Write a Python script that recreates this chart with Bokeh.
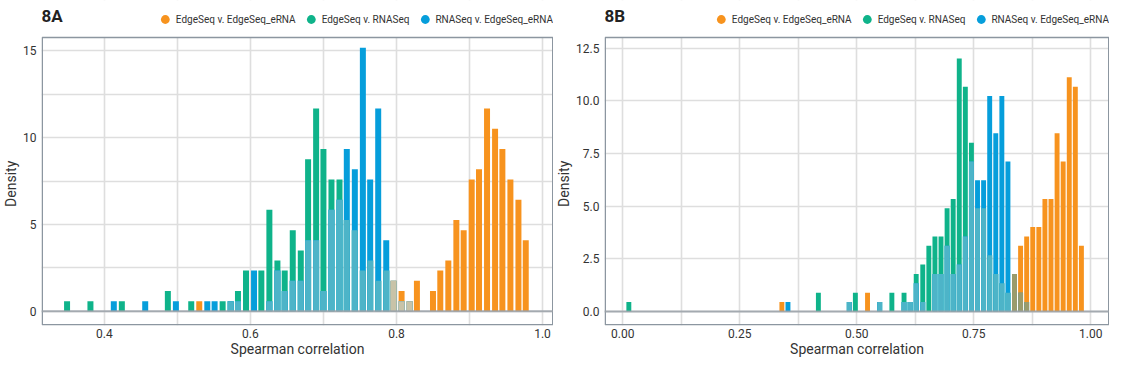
import numpy as np
from bokeh.plotting import figure
from bokeh.layouts import row
from bokeh.models import (FixedTicker, PrintfTickFormatter, Span, Legend, LegendItem,
                          ColumnDataSource, BoxAnnotation, Label)
from bokeh.embed import file_html
from bokeh.resources import INLINE

SERIES = ["EdgeSeq v. EdgeSeq_eRNA", "EdgeSeq v. RNASeq", "RNASeq v. EdgeSeq_eRNA"]
ORANGE = "#f7931e"
GREEN = "#0fb38a"
BLUE = "#069edb"
TEAL = "#4db4c8"

# ---- Panel 8A: histogram bin centres and densities ----
A_x = [0.349, 0.381, 0.413, 0.424, 0.456, 0.487, 0.498, 0.519, 0.530, 0.541,
       0.551, 0.562, 0.573, 0.583, 0.594, 0.605, 0.615, 0.626, 0.637, 0.647,
       0.658, 0.669, 0.679, 0.690, 0.700, 0.711, 0.722, 0.732, 0.743, 0.754,
       0.764, 0.775, 0.786, 0.796, 0.807, 0.818, 0.828, 0.850, 0.860, 0.871,
       0.882, 0.892, 0.903, 0.913, 0.924, 0.935, 0.945, 0.956, 0.967, 0.977]
A_orange = [0, 0, 0, 0, 0, 0, 0, 0, 0.58, 0,
            0, 0, 0, 0, 0, 0, 0, 0, 0, 0,
            0, 0, 0, 0, 0, 0, 0, 0, 0, 0,
            0, 0, 0, 1.75, 1.17, 0.58, 1.75, 1.17, 2.34, 2.92,
            5.26, 4.67, 7.59, 8.18, 11.68, 10.51, 9.34, 7.59, 6.42, 4.09]
A_green = [0.58, 0.58, 0, 0.58, 0, 1.17, 0, 0.58, 0, 0,
           0, 0.58, 0.58, 1.17, 2.34, 0, 2.34, 5.84, 2.92, 2.34,
           4.67, 3.50, 8.76, 11.68, 9.34, 7.59, 7.59, 5.26, 4.67, 2.34,
           2.92, 1.75, 2.34, 0, 0, 0, 0, 0, 0, 0,
           0, 0, 0, 0, 0, 0, 0, 0, 0, 0]
A_blue = [0, 0, 0.58, 0, 0.58, 0, 0.58, 0, 0, 0.58,
          0.58, 0, 0.58, 0.58, 0, 2.34, 0, 0.58, 2.34, 1.17,
          1.75, 1.75, 4.09, 4.09, 1.17, 5.84, 6.42, 9.34, 8.18, 15.18,
          7.59, 11.68, 4.09, 1.75, 0.58, 0.58, 0, 0, 0, 0,
          0, 0, 0, 0, 0, 0, 0, 0, 0, 0]
A_xticks = [0.4, 0.6, 0.8, 1.0]
A_yticks = [0, 5, 10, 15]

# ---- Panel 8B ----
B_x = [0.013, 0.340, 0.353, 0.418, 0.484, 0.497, 0.523, 0.549, 0.575, 0.601,
       0.614, 0.627, 0.641, 0.654, 0.667, 0.680, 0.693, 0.706, 0.719, 0.732,
       0.745, 0.758, 0.771, 0.784, 0.797, 0.810, 0.823, 0.837, 0.850, 0.863,
       0.876, 0.889, 0.902, 0.915, 0.928, 0.941, 0.954, 0.967, 0.980]
B_orange = [0, 0.45, 0, 0, 0, 0, 0.89, 0, 0, 0,
            0, 0, 0, 0, 0, 0, 0, 0, 0, 0,
            0, 0, 0, 0, 0, 0, 0, 1.78, 3.12, 3.56,
            4.01, 4.01, 5.34, 5.34, 8.46, 7.12, 11.12, 10.68, 3.12]
B_green = [0.45, 0, 0, 0.89, 0.45, 0.89, 0, 0.45, 0.89, 0.89,
           0.45, 1.78, 2.23, 3.12, 3.56, 3.56, 4.90, 5.34, 12.02, 10.68,
           8.01, 4.90, 4.90, 2.67, 1.78, 1.34, 0.89, 0, 0, 0,
           0, 0, 0, 0, 0, 0, 0, 0, 0]
B_blue = [0, 0, 0.45, 0, 0.45, 0, 0, 0.45, 0, 0.45,
          0.45, 1.34, 0.45, 0, 1.78, 1.78, 3.12, 1.78, 2.23, 3.56,
          7.12, 6.23, 6.23, 10.24, 8.46, 10.24, 7.12, 1.78, 0.89, 0.45,
          0, 0, 0, 0, 0, 0, 0, 0, 0]
B_xticks = [0.0, 0.25, 0.5, 0.75, 1.0]
B_yticks = [0, 2.5, 5, 7.5, 10, 12.5]

FONT = "Roboto"
HEADROOM = 37   # px above the plotting box reserved for title and legend
BOX_PX = 289    # px height of the plotting box
FRAME_W = 510
NB = "\u00a0" * 12  # pads the y-axis title so it centres on the plotting box, not on the headroom


def panel(title, xs, orange, green, blue, bw, x_range, ybox, xticks, xgrid, yticks, ygrid,
          xfmt, yfmt, width, bl, br, ocolor):
    y0, y1 = ybox
    upp = (y1 - y0) / BOX_PX
    y_end = y1 + HEADROOM * upp
    x0, x1 = x_range
    p = figure(width=width, height=359, x_range=x_range, y_range=(y0, y_end),
               output_backend="svg", toolbar_location=None,
               min_border_left=bl, min_border_right=br, min_border_top=0, min_border_bottom=0)
    p.outline_line_color = None
    xs = np.array(xs)
    o = np.array(orange); g = np.array(green); b = np.array(blue)
    layers = [(o, ORANGE), (g, GREEN), (b, BLUE),
              (np.minimum(g, b), TEAL), (np.minimum(o, b), ocolor), (np.minimum(o, g), ocolor)]
    for h, c in layers:
        m = h > 0
        src = ColumnDataSource(dict(x=xs[m], top=h[m]))
        p.vbar(x="x", top="top", bottom=0, width=bw, source=src, fill_color=c, line_color=None)
    p.add_layout(Span(location=0, dimension="width", line_color="#9aa1a8", line_width=2, line_alpha=0.85))

    # blank the headroom above the plotting box (hides grid lines there)
    p.add_layout(BoxAnnotation(bottom=y1, fill_color="white", fill_alpha=1, line_color=None,
                               level="underlay"))
    # plotting-box border
    dx = (x1 - x0) / FRAME_W * 0.75
    dy = upp * 0.75
    p.quad(left=[x0 + dx], right=[x1 - dx], bottom=[y0 + dy], top=[y1], fill_color=None,
           line_color="#8c96a0", line_width=1.5)

    p.xaxis.ticker = FixedTicker(ticks=xticks)
    p.yaxis.ticker = FixedTicker(ticks=yticks)
    p.xgrid.ticker = FixedTicker(ticks=xgrid)
    p.ygrid.ticker = FixedTicker(ticks=ygrid)
    p.xaxis.formatter = PrintfTickFormatter(format=xfmt)
    p.yaxis.formatter = PrintfTickFormatter(format=yfmt)
    for g_ in (p.xgrid, p.ygrid):
        g_.grid_line_color = "#dedede"
        g_.grid_line_width = 1.6
    for ax in (p.xaxis, p.yaxis):
        ax.axis_line_color = None
        ax.major_tick_line_color = None
        ax.minor_tick_line_color = None
        ax.major_tick_out = 0
        ax.minor_tick_out = 0
        ax.major_tick_in = 0
        ax.minor_tick_in = 0
        ax.major_label_text_font = FONT
        ax.major_label_text_font_size = "12px"
        ax.major_label_text_color = "#333333"
        ax.axis_label_text_font = FONT
        ax.axis_label_text_font_size = "14px"
        ax.axis_label_text_font_style = "normal"
        ax.axis_label_text_color = "#333333"
    p.xaxis.major_label_standoff = 3
    p.xaxis.axis_label_standoff = 0
    p.yaxis.major_label_standoff = 5
    p.yaxis.axis_label_standoff = 1
    p.xaxis.axis_label = "Spearman correlation"
    p.yaxis.axis_label = "Density" + NB

    p.add_layout(Label(x=x0, y=y_end, x_offset=0, y_offset=-5, text=title,
                       text_font=FONT, text_font_size="17px", text_font_style="bold",
                       text_color="#222222", text_baseline="top", text_align="left"))

    items = []
    for name, c in zip(SERIES, [ORANGE, GREEN, BLUE]):
        r = p.scatter(x=[float("nan")], y=[float("nan")], marker="circle", size=9,
                      fill_color=c, line_color=None)
        items.append(LegendItem(label=name, renderers=[r]))
    leg = Legend(items=items, orientation="horizontal", location="top_right",
                 padding=0, margin=0, spacing=4, label_standoff=0,
                 glyph_width=22, glyph_height=38, label_height=38,
                 label_text_font=FONT, label_text_font_size="10px", label_text_color="#333333",
                 border_line_color=None, background_fill_alpha=0)
    p.add_layout(leg, "center")
    return p


pA = panel("8A", A_x, A_orange, A_green, A_blue, 0.0082, (0.314, 1.015), (-0.82, 15.77),
           A_xticks, [0.4, 0.5, 0.6, 0.7, 0.8, 0.9, 1.0], A_yticks,
           [0, 2.5, 5, 7.5, 10, 12.5, 15], "%.1f", "%d", 553, 34, 0, "#c8c3a8")
pB = panel("8B", B_x, B_orange, B_green, B_blue, 0.0105, (-0.039, 1.04), (-0.67, 13.02),
           B_xticks, [0.0, 0.125, 0.25, 0.375, 0.5, 0.625, 0.75, 0.875, 1.0], B_yticks,
           B_yticks, "%.2f", "%.1f", 556, 41, 0, "#9b9b6b")

layout = row(pA, pB, spacing=0)
open("out.html", "w").write(file_html(layout, INLINE))
